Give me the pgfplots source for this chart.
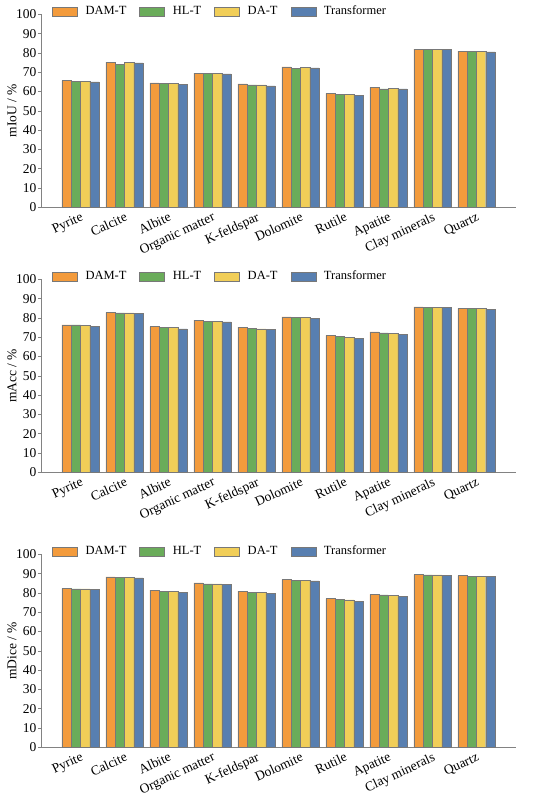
\documentclass[border=0pt]{standalone}
\usepackage{fontspec}
\setmainfont{Liberation Serif}
\usepackage{pgfplots}
\pgfplotsset{compat=1.18}
\definecolor{cO}{RGB}{243,155,60}
\definecolor{cG}{RGB}{106,172,90}
\definecolor{cY}{RGB}{241,206,88}
\definecolor{cB}{RGB}{88,127,176}
\definecolor{cEdge}{RGB}{120,120,120}
\definecolor{cAx}{RGB}{130,130,130}
\pgfplotsset{mybar/.style={
  scale only axis, width=475pt, height=193pt,
  anchor=south west,
  ybar=0pt, bar width=0.212,
  xmin=-0.9, xmax=9.9, ymin=0, ymax=100,
  xtick={0,...,9},
  xticklabels={Pyrite,Calcite,Albite,Organic matter,K-feldspar,Dolomite,Rutile,Apatite,Clay minerals,Quartz},
  ytick={0,10,...,100},
  axis lines=left,
  axis line style={-, draw=cAx, line width=0.7pt},
  major x tick style={draw=none},
  major y tick style={draw=cAx, line width=0.6pt},
  tick align=outside, major tick length=3pt,
  tick label style={font=\fontsize{13.5}{16}\selectfont, text=black},
  yticklabel style={inner sep=1.5pt},
  xticklabel style={rotate=25, anchor=north east, inner sep=1pt},
  /pgf/number format/assume math mode=true,
  ylabel style={at={(rel axis cs:0,0.5)}, yshift=29pt, anchor=center, font=\fontsize{13.5}{16}\selectfont},
  legend columns=4,
  legend style={draw=none, fill=none, at={(0.023,1.016)}, anchor=west, inner sep=0pt,
    font=\fontsize{12.5}{14}\selectfont,
    /tikz/every even column/.append style={column sep=11pt}},
  legend image code/.code={\draw[#1] (0pt,-4.5pt) rectangle (25pt,4.5pt); \path (31pt,0pt);},
  every axis plot/.append style={draw=cEdge, line width=0.4pt},
  enlarge y limits=false,
}}
\begin{document}
\begin{tikzpicture}
\useasboundingbox (0,0) rectangle (550pt,-796pt);
% mIoU
\begin{axis}[mybar, at={(41pt,-207.3pt)}, ylabel={mIoU / \%}]
\addplot[fill=cO] coordinates {(0,65.7) (1,75.2) (2,64.5) (3,69.5) (4,64.0) (5,72.8) (6,59.0) (7,62.1) (8,81.9) (9,80.9)};
\addplot[fill=cG] coordinates {(0,65.3) (1,74.0) (2,64.1) (3,69.3) (4,63.4) (5,72.1) (6,58.6) (7,61.4) (8,81.9) (9,80.7)};
\addplot[fill=cY] coordinates {(0,65.3) (1,75.0) (2,64.1) (3,69.3) (4,63.4) (5,72.4) (6,58.6) (7,61.7) (8,81.7) (9,80.7)};
\addplot[fill=cB] coordinates {(0,65.0) (1,74.8) (2,63.6) (3,69.1) (4,62.9) (5,72.2) (6,58.1) (7,61.4) (8,81.7) (9,80.5)};
\legend{DAM-T,HL-T,DA-T,Transformer}
\end{axis}
% mAcc
\begin{axis}[mybar, at={(41pt,-472.3pt)}, ylabel={mAcc / \%}]
\addplot[fill=cO] coordinates {(0,76.4) (1,82.9) (2,75.5) (3,78.8) (4,75.2) (5,80.5) (6,71.0) (7,72.8) (8,85.7) (9,85.0)};
\addplot[fill=cG] coordinates {(0,76.4) (1,82.6) (2,75.0) (3,78.3) (4,74.7) (5,80.2) (6,70.3) (7,72.2) (8,85.5) (9,84.8)};
\addplot[fill=cY] coordinates {(0,76.2) (1,82.6) (2,75.0) (3,78.3) (4,74.3) (5,80.2) (6,70.0) (7,72.1) (8,85.3) (9,84.8)};
\addplot[fill=cB] coordinates {(0,75.7) (1,82.4) (2,74.3) (3,77.9) (4,74.0) (5,79.8) (6,69.5) (7,71.6) (8,85.3) (9,84.5)};
\legend{DAM-T,HL-T,DA-T,Transformer}
\end{axis}
% mDice
\begin{axis}[mybar, at={(41pt,-747.3pt)}, ylabel={mDice / \%}]
\addplot[fill=cO] coordinates {(0,82.4) (1,88.3) (2,81.4) (3,85.2) (4,80.9) (5,86.9) (6,77.1) (7,79.3) (8,89.5) (9,89.0)};
\addplot[fill=cG] coordinates {(0,82.1) (1,87.9) (2,80.9) (3,84.7) (4,80.3) (5,86.6) (6,76.6) (7,79.0) (8,89.3) (9,88.6)};
\addplot[fill=cY] coordinates {(0,82.1) (1,87.9) (2,80.7) (3,84.7) (4,80.2) (5,86.6) (6,76.4) (7,78.6) (8,89.3) (9,88.6)};
\addplot[fill=cB] coordinates {(0,81.7) (1,87.8) (2,80.2) (3,84.5) (4,79.7) (5,86.2) (6,75.7) (7,78.1) (8,89.1) (9,88.4)};
\legend{DAM-T,HL-T,DA-T,Transformer}
\end{axis}
\end{tikzpicture}
\end{document}
